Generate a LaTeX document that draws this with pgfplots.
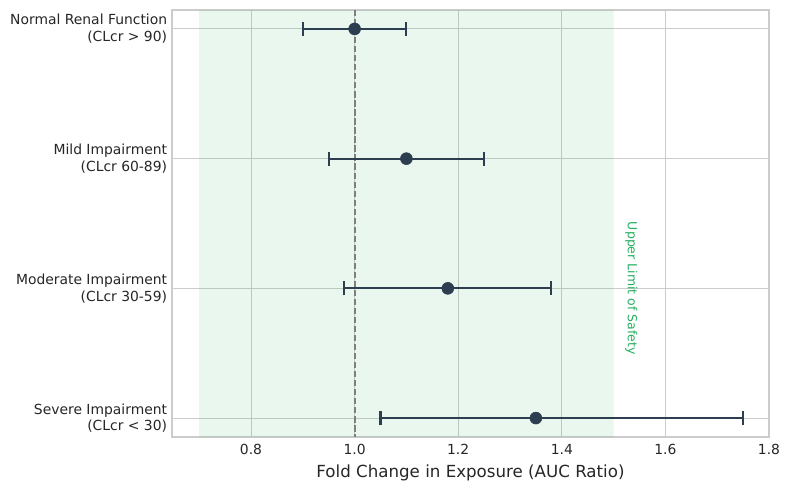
\documentclass[border=0pt]{standalone}
\usepackage{pgfplots}
\pgfplotsset{compat=1.18}
\usepackage{fontspec}
\setmainfont{DejaVu Sans}
\definecolor{pt}{HTML}{2C3E50}
\definecolor{safe}{HTML}{27AE60}
\definecolor{gridc}{HTML}{CCCCCC}
\definecolor{txt}{HTML}{262626}
\definecolor{refl}{HTML}{7F7F7F}
\begin{document}
\begin{tikzpicture}
\begin{axis}[
    scale only axis,
    width=429.84pt, height=307.44pt,
    xmin=0.6475, xmax=1.8,
    ymin=-0.146, ymax=3.146,
    y dir=reverse,
    xtick={0.8,1.0,1.2,1.4,1.6,1.8},
    xticklabels={0.8,1.0,1.2,1.4,1.6,1.8},
    ytick={0,1,2,3},
    yticklabels={{Normal Renal Function\\(CLcr > 90)},{Mild Impairment\\(CLcr 60-89)},{Moderate Impairment\\(CLcr 30-59)},{Severe Impairment\\(CLcr < 30)}},
    yticklabel style={align=right, font=\fontsize{10}{12}\selectfont, text=txt},
    xticklabel style={font=\fontsize{10}{12}\selectfont, text=txt, yshift=-2pt},
    major tick length=0pt,
    grid=major,
    major grid style={gridc, line width=0.7pt},
    axis line style={gridc, line width=1pt},
    xlabel={Fold Change in Exposure (AUC Ratio)},
    xlabel style={font=\fontsize{12}{14}\selectfont, text=txt},
    clip=false,
]
\addplot[draw=none, fill=safe, fill opacity=0.1, forget plot]
  coordinates {(0.7,-0.146) (1.5,-0.146) (1.5,3.146) (0.7,3.146)} \closedcycle;
\addplot[color=refl, line width=1.5pt, dash pattern=on 4.5pt off 2pt, forget plot]
  coordinates {(1.0,-0.146) (1.0,3.146)};
\addplot[only marks, mark=*, mark size=4.3pt, color=pt,
    error bars/.cd, x dir=both, x explicit,
    error mark=|,
    error bar style={line width=1.5pt, pt},
    error mark options={line width=1.5pt, mark size=5pt, pt}]
  coordinates {
    (1.00,0) += (0.10,0) -= (0.10,0)
    (1.10,1) += (0.15,0) -= (0.15,0)
    (1.18,2) += (0.20,0) -= (0.20,0)
    (1.35,3) += (0.40,0) -= (0.30,0)
  };
\node[rotate=-90, text=safe, font=\fontsize{9}{11}\selectfont, anchor=center]
  at (axis cs:1.534,2.0) {Upper Limit of Safety};
\end{axis}
\path (-123.84pt,-38.16pt) rectangle (444.96pt,314.64pt);
\end{tikzpicture}
\end{document}
